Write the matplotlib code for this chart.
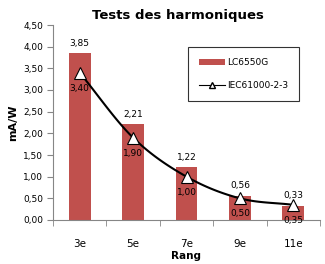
import numpy as np
import matplotlib
matplotlib.use("Agg")
import matplotlib.pyplot as plt

categories = ["3e", "5e", "7e", "9e", "11e"]
lc6550g = [3.85, 2.21, 1.22, 0.56, 0.33]
iec = [3.40, 1.90, 1.00, 0.50, 0.35]
yticks = [0, 0.5, 1.0, 1.5, 2.0, 2.5, 3.0, 3.5, 4.0, 4.5]

def fr(v):
    return f"{v:.2f}".replace(".", ",")

def catmull(xs, ys, n=30):
    xs = np.asarray(xs, float); ys = np.asarray(ys, float)
    px = np.concatenate([[2*xs[0]-xs[1]], xs, [2*xs[-1]-xs[-2]]])
    py = np.concatenate([[2*ys[0]-ys[1]], ys, [2*ys[-1]-ys[-2]]])
    ox, oy = [], []
    for i in range(1, len(px)-2):
        t = np.linspace(0, 1, n)
        for arr, out in ((px, ox), (py, oy)):
            p0, p1, p2, p3 = arr[i-1], arr[i], arr[i+1], arr[i+2]
            out.extend(0.5*((2*p1) + (-p0+p2)*t + (2*p0-5*p1+4*p2-p3)*t**2 + (-p0+3*p1-3*p2+p3)*t**3))
    return np.array(ox), np.array(oy)

plt.rcParams['font.family'] = ['DejaVu Sans']
fig = plt.figure(figsize=(3.25, 2.64), dpi=100)
ax = fig.add_axes([53/325, 1-220/264, 267/325, 195/264])

x = np.arange(len(categories))
bars = ax.bar(x, lc6550g, width=0.41, color="#C0504D", label="LC6550G", zorder=2)
sx, sy = catmull(x, iec)
ax.plot(sx, sy, color="black", lw=1.5, zorder=3)
ax.plot(x, iec, linestyle="none", marker="^", markersize=8, markerfacecolor="white",
        markeredgecolor="black", markeredgewidth=0.8, zorder=4)
legline, = ax.plot([], [], color="black", lw=0.8, marker="^", markersize=4,
                   markerfacecolor="white", markeredgecolor="black", label="IEC61000-2-3")

for xi, v in zip(x, lc6550g):
    ax.annotate(fr(v), (xi, v), xytext=(0, 4), textcoords="offset points",
                ha="center", va="bottom", fontsize=6.5, color="#000000")
for xi, v in zip(x, iec):
    ax.annotate(fr(v), (xi, v), xytext=(0, -8), textcoords="offset points",
                ha="center", va="top", fontsize=6.5, color="#000000")

ax.set_xlim(-0.5, len(categories)-0.5)
ax.set_ylim(0, 4.5)
ax.set_yticks(yticks)
ax.set_yticklabels([fr(v) for v in yticks], fontsize=6.5)
ax.set_xticks(x)
ax.set_xticklabels(categories, fontsize=7.5)
ax.set_xticks(np.arange(-0.5, len(categories), 1), minor=True)
ax.tick_params(axis="x", which="major", length=0, pad=14)
ax.tick_params(axis="x", which="minor", length=4, color="#868686")
ax.tick_params(axis="y", length=4, color="#868686", pad=3)
for s in ["top", "right"]:
    ax.spines[s].set_visible(False)
for s in ["left", "bottom"]:
    ax.spines[s].set_color("#868686")
    ax.spines[s].set_linewidth(0.8)

ax.set_ylabel("mA/W", fontsize=8, fontweight="bold", labelpad=4)
ax.set_xlabel("Rang", fontsize=7.5, fontweight="bold", labelpad=1)
fig.text(178/325, 1-15/264, "Tests des harmoniques", ha="center", va="center",
         fontsize=9.5, fontweight="bold")

leg = ax.legend(handles=[bars, legline], loc="upper left",
                bbox_to_anchor=((188-53)/267, (220-47)/195),
                fontsize=6.5, frameon=True, fancybox=False, edgecolor="black",
                borderpad=1.2, labelspacing=1.6, handlelength=2.9, handletextpad=0.2,
                borderaxespad=0)
leg.get_frame().set_linewidth(0.8)

fig.savefig("out.png", dpi=100)
